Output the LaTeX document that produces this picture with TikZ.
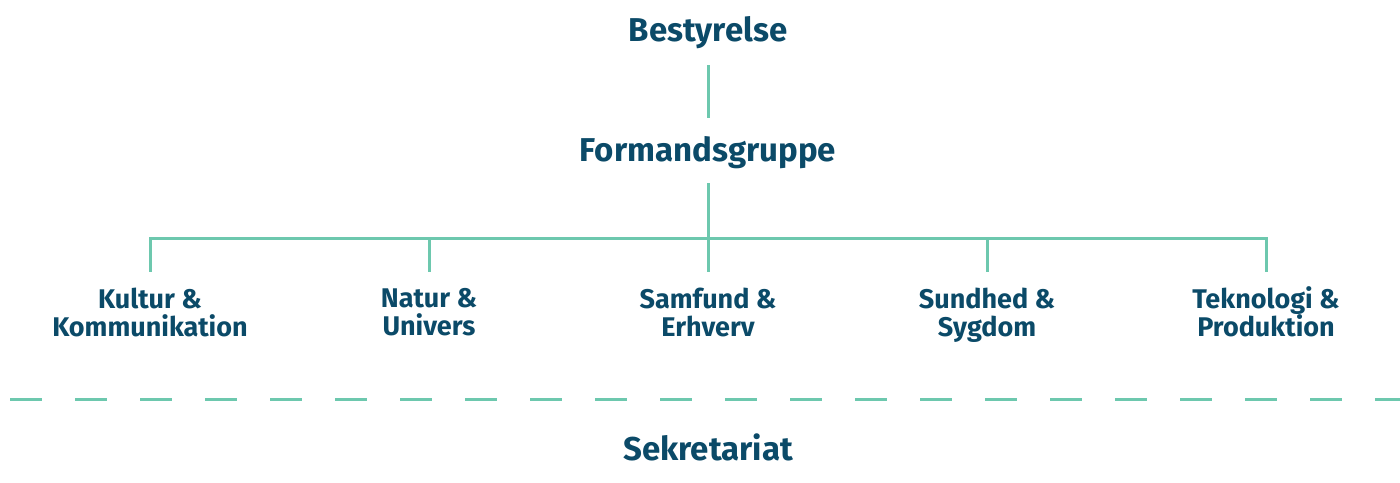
\documentclass[tikz,border=0pt]{standalone}
\usepackage{fontspec}
\setmainfont{Fira Sans}
\usetikzlibrary{trees}
\definecolor{titleblue}{HTML}{0B4A68}
\definecolor{linegreen}{HTML}{6DC8AE}

\begin{document}
\begin{tikzpicture}[level distance=60pt, sibling distance=139.5pt,
      every node/.style = {align=center, text=titleblue, inner sep=0pt,
        font=\bfseries\fontsize{16.5}{18}\selectfont,
        execute at begin node=\strut, execute at end node=\strut},
      unit/.style = {font=\bfseries\fontsize{13.5}{14}\selectfont},
      edge from parent/.style = {draw=linegreen, line width=1.5pt},
      level 1/.style = {edge from parent path={([yshift=-15.5pt]\tikzparentnode.center) -- ([yshift=18pt]\tikzchildnode.center)}},
      level 2/.style = {level distance=81pt,
        edge from parent path={([yshift=-14.5pt]\tikzparentnode.center) -- ++(0,-27.5pt) -| ([yshift=22pt]\tikzchildnode.center)}}]
    \useasboundingbox (0,0) rectangle (700pt,-241pt);
    \node (board) at (354pt,-17pt) {Bestyrelse}
      child {node (chair) {Formandsgruppe}
        child {node[unit] (kultur) {Kultur \&\\Kommunikation}}
        child {node[unit] (natur) {Natur \&\\Univers}}
        child {node[unit] (samfund) {Samfund \&\\Erhverv}}
        child {node[unit] (sundhed) {Sundhed \&\\Sygdom}}
        child {node[unit] (teknologi) {Teknologi \&\\Produktion}}
      };
    % secretariat below the dashed divider
    \draw[linegreen, line width=1.5pt, dash pattern=on 16pt off 16.5pt] (5pt,-199.5pt) -- (700pt,-199.5pt);
    \node (secretariat) at (354pt,-226.5pt) {Sekretariat};
    \end{tikzpicture}
\end{document}
